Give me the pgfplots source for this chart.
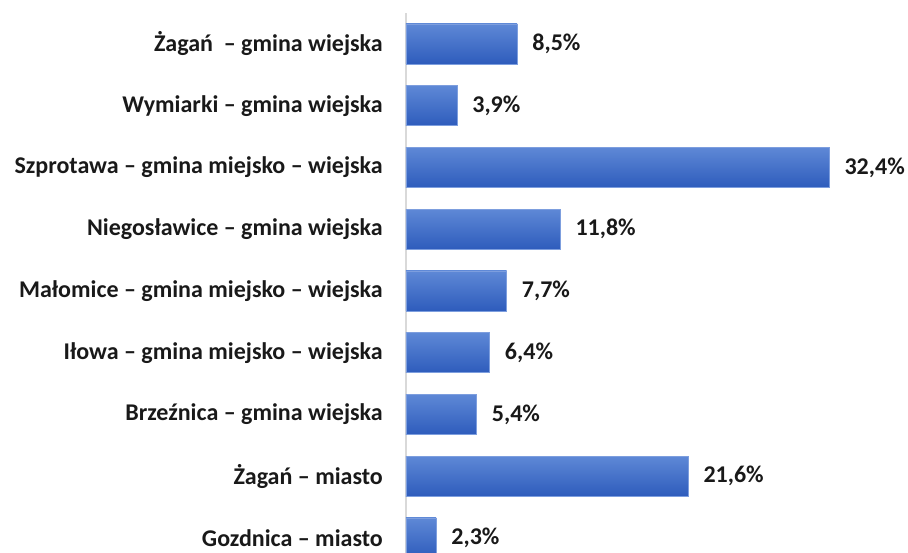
\documentclass[border=0pt]{standalone}
\usepackage{pgfplots}
\pgfplotsset{compat=1.18}
\usepackage{fontspec}
\setmainfont{Carlito}
\definecolor{barTop}{RGB}{94,136,214}
\definecolor{barBot}{RGB}{46,92,188}
\definecolor{barEdge}{RGB}{125,158,222}
\definecolor{axGray}{RGB}{217,217,217}
\tikzset{barsty/.style={top color=barTop, bottom color=barBot, draw=barEdge, line width=0.8pt}}
\begin{document}
\begin{tikzpicture}[x=1pt,y=1pt]
\useasboundingbox (0,0) rectangle (908,553);
\begin{axis}[
  at={(406pt,0pt)}, anchor=south west,
  scale only axis,
  width=496.3pt, height=540pt,
  xmin=0, xmax=38,
  ymin=-0.243, ymax=8.502,
  xbar, bar width=40pt, bar shift=0pt,
  axis lines*=left,
  x axis line style={draw=none},
  y axis line style={draw=axGray, line width=1.2pt},
  xtick=\empty,
  ytick={0,1,2,3,4,5,6,7,8},
  yticklabels={Gozdnica – miasto, Żagań – miasto, Brzeźnica – gmina wiejska, Iłowa – gmina miejsko – wiejska, Małomice – gmina miejsko – wiejska, Niegosławice – gmina wiejska, Szprotawa – gmina miejsko – wiejska, Wymiarki – gmina wiejska, Żagań\ \ – gmina wiejska},
  major tick length=0pt,
  yticklabel style={font=\fontsize{24}{28}\selectfont\bfseries, anchor=east, inner sep=0pt, xshift=-23pt, text=black!90},
  nodes near coords={\pgfmathprintnumber{\pgfplotspointmeta}\%},
  nodes near coords align={horizontal},
  every node near coord/.append style={font=\fontsize{24}{28}\selectfont\bfseries, anchor=west, inner sep=0pt, xshift=15pt, text=black!90},
  /pgf/number format/.cd, use comma, fixed, fixed zerofill, precision=1, assume math mode=true,
]
\addplot[barsty] coordinates {(2.3,0)};
\addplot[barsty] coordinates {(21.6,1)};
\addplot[barsty] coordinates {(5.4,2)};
\addplot[barsty] coordinates {(6.4,3)};
\addplot[barsty] coordinates {(7.7,4)};
\addplot[barsty] coordinates {(11.8,5)};
\addplot[barsty] coordinates {(32.4,6)};
\addplot[barsty] coordinates {(3.9,7)};
\addplot[barsty] coordinates {(8.5,8)};
\end{axis}
\end{tikzpicture}
\end{document}
